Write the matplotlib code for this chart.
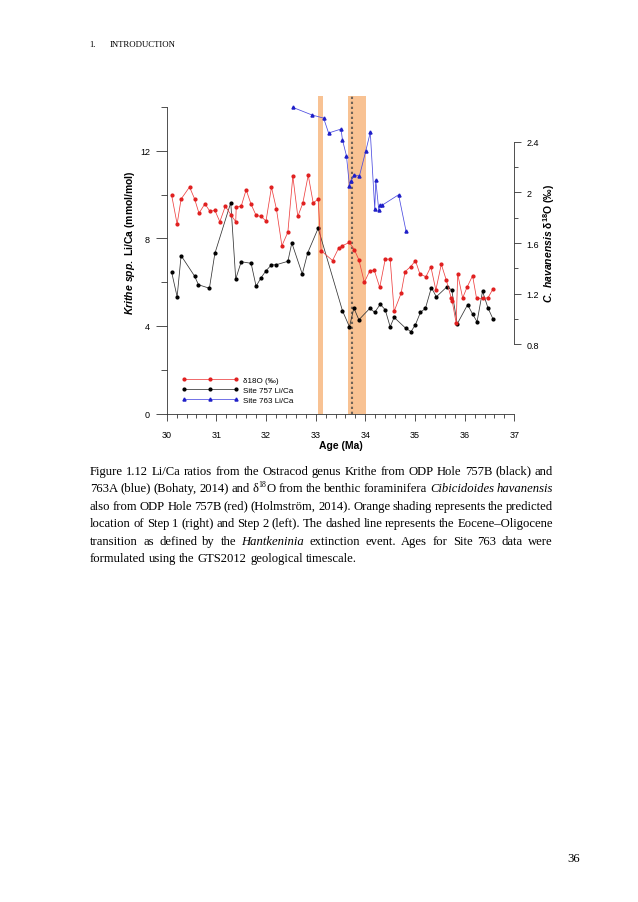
import math
import matplotlib
matplotlib.use("Agg")
import matplotlib.pyplot as plt
from matplotlib.ticker import MultipleLocator, FixedLocator
from matplotlib.transforms import IdentityTransform

# ---- data ----
# delta18O, C. havanensis, Site 757 (right axis)
d18o_age = [30.10, 30.21, 30.29, 30.46, 30.56, 30.65, 30.77, 30.87, 30.97, 31.07,
            31.18, 31.29, 31.39, 31.40, 31.50, 31.60, 31.70, 31.80, 31.90, 32.00,
            32.11, 32.21, 32.32, 32.44, 32.54, 32.64, 32.74, 32.85, 32.95, 33.05,
            33.11, 33.34, 33.46, 33.54, 33.68, 33.78, 33.87, 33.98, 34.09, 34.18,
            34.29, 34.40, 34.50, 34.58, 34.72, 34.80, 34.91, 35.01, 35.10, 35.22,
            35.32, 35.42, 35.53, 35.63, 35.73, 35.75, 35.83, 35.86, 35.96, 36.05,
            36.16, 36.24, 36.36, 36.47, 36.57]
d18o_val = [1.976, 1.75, 1.947, 2.042, 1.95, 1.835, 1.91, 1.85, 1.858, 1.768,
            1.89, 1.825, 1.768, 1.884, 1.89, 2.02, 1.905, 1.818, 1.81, 1.774,
            2.04, 1.868, 1.578, 1.686, 2.128, 1.81, 1.913, 2.135, 1.917, 1.946,
            1.539, 1.462, 1.558, 1.579, 1.605, 1.547, 1.468, 1.29, 1.381, 1.385,
            1.25, 1.471, 1.474, 1.061, 1.203, 1.374, 1.413, 1.46, 1.355, 1.334,
            1.413, 1.229, 1.432, 1.308, 1.166, 1.142, 0.966, 1.355, 1.166, 1.253,
            1.342, 1.163, 1.163, 1.168, 1.237]

# Krithe Li/Ca, Site 757 (left axis)
s757_age = [30.10, 30.21, 30.29, 30.56, 30.64, 30.86, 30.97, 31.29, 31.39, 31.50,
            31.70, 31.80, 31.90, 32.00, 32.11, 32.20, 32.44, 32.52, 32.73, 32.84,
            33.05, 33.54, 33.68, 33.77, 33.87, 34.09, 34.19, 34.30, 34.40, 34.50,
            34.58, 34.81, 34.92, 35.01, 35.11, 35.21, 35.33, 35.43, 35.64, 35.74,
            35.85, 36.06, 36.16, 36.25, 36.36, 36.47, 36.57]
s757_val = [6.45, 5.33, 7.21, 6.28, 5.88, 5.72, 7.31, 9.63, 6.14, 6.93,
            6.86, 5.81, 6.20, 6.52, 6.79, 6.79, 6.95, 7.79, 6.37, 7.34,
            8.46, 4.69, 3.96, 4.82, 4.28, 4.80, 4.62, 4.99, 4.74, 3.96,
            4.39, 3.90, 3.74, 4.06, 4.62, 4.80, 5.75, 5.33, 5.78, 5.65,
            4.09, 4.97, 4.54, 4.19, 5.58, 4.82, 4.32]

# Krithe Li/Ca, Site 763 (left axis)
s763_age = [32.54, 32.93, 33.16, 33.26, 33.51, 33.54, 33.62, 33.68, 33.71, 33.77,
            33.88, 34.01, 34.10, 34.19, 34.21, 34.27, 34.29, 34.33, 34.67, 34.82]
s763_val = [13.98, 13.63, 13.49, 12.81, 12.99, 12.49, 11.77, 10.40, 10.60, 10.90,
            10.84, 12.00, 12.84, 9.32, 10.66, 9.31, 9.53, 9.50, 9.99, 8.33]

step2 = (33.04, 33.15)
step1 = (33.66, 34.01)
eot_age = 33.73

legend_labels = ["δ18O (‰)", "Site 757 Li/Ca", "Site 763 Li/Ca"]

caption = [
    "Figure 1.12 Li/Ca ratios from the Ostracod genus Krithe from ODP Hole 757B (black) and",
    "763A (blue) (Bohaty, 2014) and δ18O from the benthic foraminifera *Cibicidoides* *havanensis*",
    "also from ODP Hole 757B (red) (Holmström, 2014). Orange shading represents the predicted",
    "location of Step 1 (right) and Step 2 (left). The dashed line represents the Eocene–Oligocene",
    "transition as defined by the *Hantkeninia* extinction event. Ages for Site 763 data were",
    "formulated using the GTS2012 geological timescale.",
]

plt.rcParams['font.family'] = ['Liberation Sans', 'DejaVu Sans']
plt.rcParams['mathtext.fontset'] = 'custom'
plt.rcParams['mathtext.rm'] = 'Liberation Sans:bold'
plt.rcParams['mathtext.bf'] = 'Liberation Sans:bold'
plt.rcParams['mathtext.it'] = 'Liberation Sans:italic:bold'

W, H = 638, 903
fig = plt.figure(figsize=(W / 100, H / 100), dpi=100)
ax = fig.add_axes([166.7 / W, 1 - 414.5 / H, 347.6 / W, 317.5 / H])
ax2 = ax.twinx()

ax.set_xlim(30, 37)
ax.set_ylim(0, 14.5)
ax2.set_ylim(0.255, 2.760)

# shading and the E-O boundary
band = '#f8c293'
ax.axvspan(*step2, color=band, lw=0, zorder=0)
ax.axvspan(*step1, color=band, lw=0, zorder=0)
ax.axvline(eot_age, color='#6f6357', lw=1.5, linestyle=(0, (1.1, 1.3)), zorder=1)

ax.plot(s757_age, s757_val, color='#333333', lw=0.55, marker='o', ms=2.0,
        mfc='black', mec='black', label=legend_labels[1], zorder=3)
ax.plot(s763_age, s763_val, color='#4a4ae0', lw=0.55, marker='^', ms=2.2,
        mfc='#1f1fc8', mec='#1f1fc8', label=legend_labels[2], zorder=3)
ax2.plot(d18o_age, d18o_val, color='#ee4040', lw=0.55, marker='o', ms=2.0,
         mfc='#e01f1f', mec='#e01f1f', label=legend_labels[0], zorder=3)

# spines
for s in ['top', 'right']:
    ax.spines[s].set_visible(False)
for s in ['top', 'left', 'bottom']:
    ax2.spines[s].set_visible(False)
ax.spines['left'].set_bounds(0, 14)
ax2.spines['right'].set_bounds(0.8, 2.4)
for sp in [ax.spines['left'], ax.spines['bottom'], ax2.spines['right']]:
    sp.set_linewidth(0.6)
    sp.set_color('#333333')

# left axis ticks
ax.yaxis.set_major_locator(FixedLocator([0, 4, 8, 12]))
ax.yaxis.set_minor_locator(FixedLocator([2, 6, 10, 14]))
ax.tick_params(axis='y', which='major', length=8, width=0.6, pad=4,
               labelsize=6.5, color='#333333')
ax.tick_params(axis='y', which='minor', length=4, width=0.6, color='#333333')

# bottom axis ticks
ax.xaxis.set_major_locator(MultipleLocator(1))
ax.xaxis.set_minor_locator(MultipleLocator(0.2))
ax.tick_params(axis='x', which='major', length=5, width=0.6, pad=7,
               labelsize=6.5, color='#333333')
ax.tick_params(axis='x', which='minor', length=3, width=0.6, color='#333333')

# right axis ticks
ax2.yaxis.set_major_locator(FixedLocator([0.8, 1.2, 1.6, 2.0, 2.4]))
ax2.yaxis.set_minor_locator(FixedLocator([1.0, 1.4, 1.8, 2.2]))
ax2.yaxis.set_major_formatter(plt.FuncFormatter(lambda v, p: f"{v:g}"))
ax2.tick_params(axis='y', which='major', length=5, width=0.6, pad=4,
                labelsize=6.5, color='#333333')
ax2.tick_params(axis='y', which='minor', length=3, width=0.6, color='#333333')

# axis labels
ax.set_xlabel("Age (Ma)", fontsize=7.5, fontweight='bold', va='top')
ax.xaxis.set_label_coords(0.5, -0.082)
ax.set_ylabel(r"$\it{Krithe\ spp.}$ Li/Ca (mmol/mol)", fontsize=7.5,
              fontweight='bold', va='center')
ax.yaxis.set_label_coords(-0.106, 0.54)
ax2.set_ylabel(r"$\it{C.\ havanensis}$ $\mathrm{\delta}^{18}$O (‰)", fontsize=7.5,
               fontweight='bold', rotation=90, va='center')
ax2.yaxis.set_label_coords(1.1, 0.54)

# legend
h0 = ax2.get_lines()[0]
h1, h2 = ax.get_lines()[1], ax.get_lines()[2]
ax2.legend([h0, h1, h2], legend_labels, loc='upper left',
           bbox_to_anchor=(0.044, 0.117), frameon=False, fontsize=5.8,
           numpoints=3, handlelength=7.0, handletextpad=0.6,
           labelspacing=0.3, borderpad=0, borderaxespad=0)

# ---- page text ----
serif = ['Liberation Serif', 'DejaVu Serif']
fig.text(89 / W, 1 - 47 / H, "1.", fontsize=6.2, family=serif, va='baseline')
fig.text(110 / W, 1 - 47 / H, "INTRODUCTION", fontsize=6.3, family=serif, va='baseline')
fig.text(580 / W, 1 - 862 / H, "36", fontsize=9.2, family=serif, ha='right', va='baseline')

renderer = fig.canvas.get_renderer()
cap_size = 9.1
px_per_pt = 100 / 72


def word_parts(w):
    if w == "δ18O":
        return [("δ", "normal", 0, 1.0), ("18", "normal", 5, 0.62), ("O", "normal", 0, 1.0)]
    if w.startswith("*"):
        return [(w.strip("*"), "italic", 0, 1.0)]
    return [(w, "normal", 0, 1.0)]


def place(t, x, row):
    # put the glyph baseline of a word exactly on pixel row `row` (from top),
    # so words with different descenders do not jitter by a pixel
    _, h, d = renderer.get_text_width_height_descent(t.get_text(), t.get_fontproperties(), False)
    k = math.floor(h) - math.floor(h - d)
    b = row + k - d
    t.set_position((x, H - b))


def put_line(line, x0, x1, ybase, justify):
    words = []
    for w in line.split(" "):
        segs, total = [], 0.0
        for txt, st, raise_px, sc in word_parts(w):
            t = fig.text(0, 0, txt, fontsize=cap_size * sc, fontstyle=st, family=serif,
                         va='baseline', transform=IdentityTransform())
            wpx = t.get_window_extent(renderer).width
            segs.append((t, wpx, raise_px))
            total += wpx
        words.append((segs, total))
    total_w = sum(t for _, t in words)
    if justify and len(words) > 1:
        gap = (x1 - x0 - total_w) / (len(words) - 1)
    else:
        gap = cap_size * px_per_pt * 0.25
    row = int(round(ybase))
    x = x0
    for segs, total in words:
        xs = x
        for t, wpx, raise_px in segs:
            place(t, xs, row - raise_px)
            xs += wpx
        x += total + gap


cap_left, cap_right = 90, 553
y0, dy_line = 475, 17.4
for i, line in enumerate(caption):
    put_line(line, cap_left, cap_right, y0 + i * dy_line, justify=(i < len(caption) - 1))

fig.savefig("out.png", dpi=100)
